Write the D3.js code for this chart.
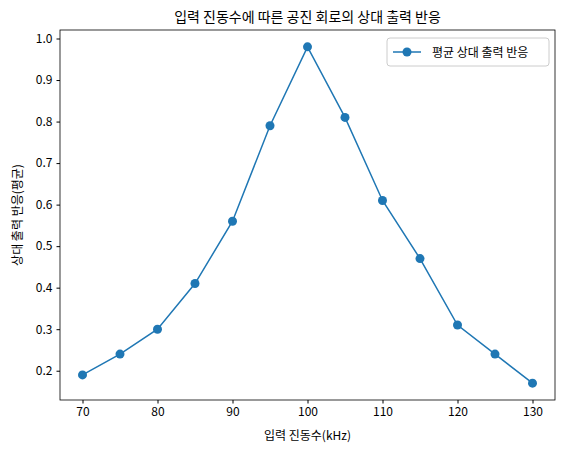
<!DOCTYPE html><html><head><meta charset="utf-8"><script src="https://cdn.jsdelivr.net/npm/d3@7"></script>
<style>body{margin:0;background:#fff}text{font-family:"Noto Sans CJK KR","Noto Sans",sans-serif}</style></head><body>
<svg id="c" width="565" height="455"></svg>
<script>
const freqs=[70,75,80,85,90,95,100,105,110,115,120,125,130];
const resp=[0.19,0.24,0.30,0.41,0.56,0.79,0.98,0.81,0.61,0.47,0.31,0.24,0.17];
const xTicks=[70,80,90,100,110,120,130];
const yTicks=[0.2,0.3,0.4,0.5,0.6,0.7,0.8,0.9,1.0];
const svg=d3.select("#c");
const L=60,R=555,T=30,B=400;
const x=d3.scaleLinear().domain([67,133]).range([L,R]);
const y=d3.scaleLinear().domain([0.1295,1.0205]).range([B,T]);
const c="#1f77b4";
svg.append("g").attr("transform",`translate(0,${B})`).call(d3.axisBottom(x).tickValues(xTicks).tickSize(3.5).tickPadding(4)).call(g=>{g.select(".domain").remove();g.selectAll("text").attr("font-size",12).attr("fill","#000")});
svg.append("g").attr("transform",`translate(${L},0)`).call(d3.axisLeft(y).tickValues(yTicks).tickFormat(d3.format(".1f")).tickSize(3.5).tickPadding(4)).call(g=>{g.select(".domain").remove();g.selectAll("text").attr("font-size",12).attr("fill","#000")});
svg.append("rect").attr("x",L).attr("y",T).attr("width",R-L).attr("height",B-T).attr("fill","none").attr("stroke","#000").attr("stroke-width",0.8);
svg.append("path").datum(freqs.map((f,i)=>[f,resp[i]])).attr("d",d3.line().x(d=>x(d[0])).y(d=>y(d[1]))).attr("fill","none").attr("stroke",c).attr("stroke-width",1.5);
svg.selectAll("circle.p").data(freqs).enter().append("circle").attr("cx",d=>x(d)).attr("cy",(d,i)=>y(resp[i])).attr("r",4.5).attr("fill",c);
svg.append("text").attr("x",(L+R)/2).attr("y",22).attr("text-anchor","middle").attr("font-size",14).text("입력 진동수에 따른 공진 회로의 상대 출력 반응");
svg.append("text").attr("x",(L+R)/2).attr("y",440).attr("text-anchor","middle").attr("font-size",12).text("입력 진동수(kHz)");
svg.append("text").attr("transform",`translate(22,${(T+B)/2}) rotate(-90)`).attr("text-anchor","middle").attr("font-size",12).text("상대 출력 반응(평균)");
const lg=svg.append("g");
lg.append("rect").attr("x",387).attr("y",38).attr("width",162).attr("height",28).attr("rx",3).attr("fill","#fff").attr("stroke","#ccc");
lg.append("line").attr("x1",393).attr("x2",421).attr("y1",52).attr("y2",52).attr("stroke",c).attr("stroke-width",1.5);
lg.append("circle").attr("cx",407).attr("cy",52).attr("r",4.5).attr("fill",c);
lg.append("text").attr("x",432).attr("y",56.5).attr("font-size",12).text("평균 상대 출력 반응");
</script></body></html>
